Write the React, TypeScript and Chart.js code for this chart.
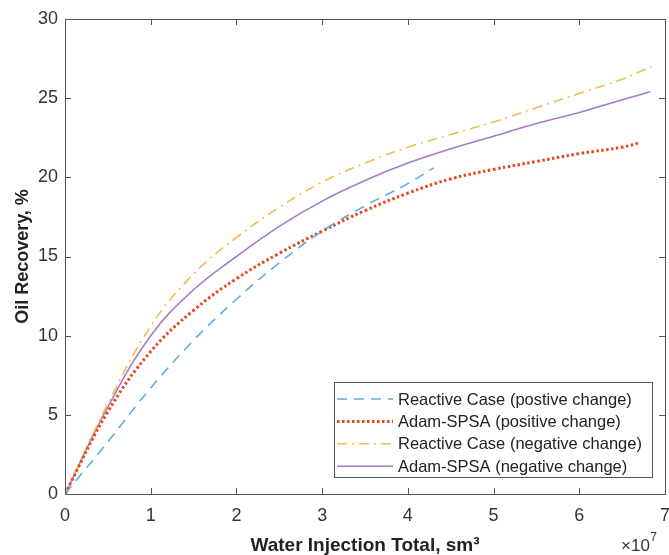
import React, { useEffect, useRef } from "react";
import { Chart, registerables } from "chart.js";

Chart.register(...registerables);

// x values in units of 1e7 sm3
const xReactivePos = [0, 0.5, 1, 1.5, 2, 2.5, 3, 3.5, 4, 4.3];
const yReactivePos = [0, 3.3, 6.7, 9.7, 12.3, 14.6, 16.6, 18.2, 19.6, 20.6];

const xAdamPos = [0, 0.5, 1, 1.5, 2, 2.5, 3, 3.5, 4, 4.5, 5, 5.5, 6, 6.5, 6.71];
const yAdamPos = [0, 5.2, 9.0, 11.6, 13.6, 15.2, 16.6, 17.9, 19.0, 19.9, 20.5, 21.0, 21.5, 21.9, 22.2];

const xReactiveNeg = [0, 0.5, 1, 1.5, 2, 2.5, 3, 3.5, 4, 4.5, 5, 5.5, 6, 6.5, 6.84];
const yReactiveNeg = [0, 5.7, 10.6, 13.9, 16.2, 18.1, 19.7, 20.9, 21.9, 22.7, 23.5, 24.4, 25.3, 26.2, 27.0];

const xAdamNeg = [0, 0.5, 1, 1.5, 2, 2.5, 3, 3.5, 4, 4.5, 5, 5.5, 6, 6.5, 6.83];
const yAdamNeg = [0, 5.5, 10.0, 12.9, 15.0, 16.9, 18.5, 19.8, 20.9, 21.8, 22.6, 23.4, 24.1, 24.9, 25.4];

const seriesLabels = [
  "Reactive Case (postive change)",
  "Adam-SPSA (positive change)",
  "Reactive Case (negative change)",
  "Adam-SPSA (negative change)",
];

const xTicks = [0, 1, 2, 3, 4, 5, 6, 7];
const yTicks = [0, 5, 10, 15, 20, 25, 30];

const xAxisTitle = "Water Injection Total, sm\u00B3";
const yAxisTitle = "Oil Recovery, %";
const xExponentBase = "\u00D710";
const xExponent = "7";

const FONT = '"Liberation Sans", Arial, sans-serif';
const AXIS_COLOR = "#555555";
const TEXT_COLOR = "#333333";

const toPoints = (xs: number[], ys: number[]) => xs.map((x, i) => ({ x, y: ys[i] }));

const framePlugin = {
  id: "matlabFrame",
  afterDatasetsDraw(chart: any) {
    const { ctx, chartArea, scales } = chart;
    const { left, right, top, bottom } = chartArea;
    ctx.save();
    ctx.strokeStyle = AXIS_COLOR;
    ctx.lineWidth = 1;
    ctx.setLineDash([]);
    ctx.strokeRect(Math.round(left) + 0.5, Math.round(top) + 0.5, Math.round(right - left), Math.round(bottom - top));
    const tl = 6;
    ctx.beginPath();
    xTicks.forEach((v) => {
      const px = Math.round(scales.x.getPixelForValue(v)) + 0.5;
      ctx.moveTo(px, bottom);
      ctx.lineTo(px, bottom - tl);
      ctx.moveTo(px, top);
      ctx.lineTo(px, top + tl);
    });
    yTicks.forEach((v) => {
      const py = Math.round(scales.y.getPixelForValue(v)) + 0.5;
      ctx.moveTo(left, py);
      ctx.lineTo(left + tl, py);
      ctx.moveTo(right, py);
      ctx.lineTo(right - tl, py);
    });
    ctx.stroke();

    // legend
    const bx = 334, by = 382, bw = 318, bh = 95;
    ctx.fillStyle = "#ffffff";
    ctx.fillRect(bx, by, bw, bh);
    ctx.strokeStyle = AXIS_COLOR;
    ctx.strokeRect(bx + 0.5, by + 0.5, bw, bh);
    const rowH = 22.4;
    chart.data.datasets.forEach((ds: any, i: number) => {
      const cy = by + 17 + i * rowH;
      ctx.save();
      ctx.strokeStyle = ds.borderColor;
      ctx.lineWidth = ds.borderWidth;
      ctx.setLineDash(ds.borderDash || []);
      ctx.beginPath();
      ctx.moveTo(bx + 3, cy);
      ctx.lineTo(bx + 59, cy);
      ctx.stroke();
      ctx.restore();
      ctx.fillStyle = "#222222";
      ctx.font = `16.5px ${FONT}`;
      ctx.textAlign = "left";
      ctx.textBaseline = "middle";
      ctx.fillText(ds.label, bx + 64, cy + 1);
    });

    // x exponent
    ctx.fillStyle = TEXT_COLOR;
    ctx.font = `17px ${FONT}`;
    ctx.textAlign = "left";
    ctx.textBaseline = "alphabetic";
    ctx.fillText(xExponentBase, 621, 551);
    const w = ctx.measureText(xExponentBase).width;
    ctx.font = `12px ${FONT}`;
    ctx.fillText(xExponent, 621 + w + 0.5, 541);
    ctx.restore();
  },
};

export default function App() {
  const ref = useRef<HTMLCanvasElement>(null);
  useEffect(() => {
    document.body.style.margin = "0";
    const canvas = ref.current!;
    const chart = new Chart(canvas, {
      type: "line",
      data: {
        datasets: [
          {
            label: seriesLabels[0],
            data: toPoints(xReactivePos, yReactivePos),
            borderColor: "#5AAEE4",
            borderWidth: 1.6,
            borderDash: [10, 7],
            pointRadius: 0,
            fill: false,
            tension: 0.4,
          },
          {
            label: seriesLabels[1],
            data: toPoints(xAdamPos, yAdamPos),
            borderColor: "#E8461E",
            borderWidth: 3,
            borderDash: [2.5, 2.5],
            pointRadius: 0,
            fill: false,
            tension: 0.4,
          },
          {
            label: seriesLabels[2],
            data: toPoints(xReactiveNeg, yReactiveNeg),
            borderColor: "#EDBE50",
            borderWidth: 1.6,
            borderDash: [10, 5, 2, 5],
            pointRadius: 0,
            fill: false,
            tension: 0.4,
          },
          {
            label: seriesLabels[3],
            data: toPoints(xAdamNeg, yAdamNeg),
            borderColor: "#A57BC6",
            borderWidth: 1.6,
            pointRadius: 0,
            fill: false,
            tension: 0.4,
          },
        ],
      },
      options: {
        animation: false,
        responsive: false,
        devicePixelRatio: 1,
        layout: { padding: { top: 19, right: 4, left: 0, bottom: 0 } },
        plugins: {
          legend: { display: false },
          tooltip: { enabled: false },
        },
        scales: {
          x: {
            type: "linear",
            min: 0,
            max: 7,
            afterBuildTicks: (s: any) => {
              s.ticks = xTicks.map((v) => ({ value: v }));
            },
            afterFit: (s: any) => {
              s.height = 61;
              s.paddingLeft = 0;
              s.paddingRight = 0;
            },
            grid: { display: false, drawTicks: false },
            border: { display: false },
            ticks: {
              padding: 11,
              color: TEXT_COLOR,
              font: { family: FONT, size: 18 },
              maxRotation: 0,
              callback: (v: any) => String(v),
            },
            title: {
              display: true,
              text: xAxisTitle,
              color: "#222222",
              font: { family: FONT, size: 19, weight: "bold", lineHeight: 1 },
              padding: { top: 0, bottom: 0 },
            },
          },
          y: {
            type: "linear",
            min: 0,
            max: 30,
            afterBuildTicks: (s: any) => {
              s.ticks = yTicks.map((v) => ({ value: v }));
            },
            afterFit: (s: any) => {
              s.width = 65;
              s.paddingTop = 0;
              s.paddingBottom = 0;
            },
            grid: { display: false, drawTicks: false },
            border: { display: false },
            ticks: {
              padding: 7,
              color: TEXT_COLOR,
              font: { family: FONT, size: 18 },
              callback: (v: any) => String(v),
            },
            title: {
              display: true,
              text: yAxisTitle,
              color: "#222222",
              font: { family: FONT, size: 18, weight: "bold", lineHeight: 1 },
              padding: { top: 14, bottom: 0 },
            },
          },
        },
      } as any,
      plugins: [framePlugin],
    });
    return () => chart.destroy();
  }, []);
  return <canvas ref={ref} width={669} height={555} style={{ display: "block" }} />;
}
